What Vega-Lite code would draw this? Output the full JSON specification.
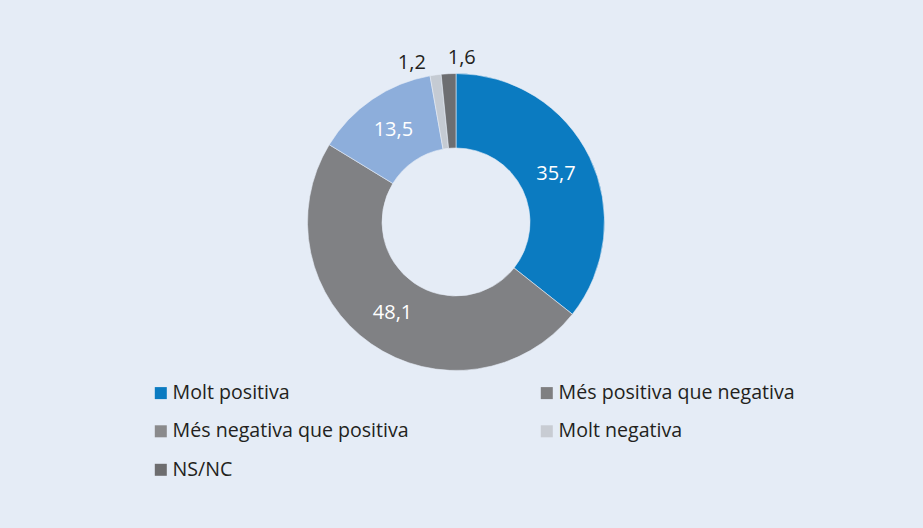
{
  "$schema": "https://vega.github.io/schema/vega-lite/v6.json",
  "width": 906,
  "height": 438,
  "autosize": {"type": "none"},
  "padding": {"left": 3, "top": 3, "right": 14, "bottom": 87},
  "background": "#e5ecf6",
  "config": {
    "view": {"stroke": null},
    "font": "Open Sans",
    "locale": {"number": {"decimal": ",", "thousands": ".", "grouping": [3], "currency": ["", " €"]}}
  },
  "data": {
    "values": [
      {"cat": "Molt positiva", "value": 35.7},
      {"cat": "Més positiva que negativa", "value": 48.1},
      {"cat": "Més negativa que positiva", "value": 13.5},
      {"cat": "Molt negativa", "value": 1.2},
      {"cat": "NS/NC", "value": 1.6}
    ]
  },
  "transform": [{"window": [{"op": "row_number", "as": "idx"}]}],
  "encoding": {
    "theta": {"field": "value", "type": "quantitative", "stack": true},
    "order": {"field": "idx", "type": "quantitative"}
  },
  "layer": [
    {
      "mark": {"type": "arc", "outerRadius": 148.5, "innerRadius": 74, "stroke": "#e5ecf6", "strokeWidth": 0.6},
      "encoding": {
        "fill": {
          "field": "cat", "type": "nominal", "sort": null,
          "scale": {"range": ["#0b7bc1", "#808184", "#8daedb", "#c5cbd3", "#6d6e71"]},
          "legend": null
        }
      }
    },
    {
      "mark": {"type": "point", "shape": "square", "filled": true, "opacity": 0},
      "encoding": {
        "color": {
          "field": "cat", "type": "nominal",
          "scale": {
            "domain": ["Molt positiva", "Més positiva que negativa", "Més negativa que positiva", "Molt negativa", "NS/NC"],
            "range": ["#0b7bc1", "#7f7f81", "#8a8a8c", "#c8ccd3", "#6d6d6f"]
          },
          "legend": {
            "title": null,
            "orient": "none",
            "direction": "horizontal",
            "legendX": 148,
            "legendY": 380,
            "columns": 2,
            "columnPadding": 128,
            "rowPadding": 17.5,
            "padding": 0,
            "symbolType": "square",
            "symbolSize": 144,
            "symbolOpacity": 1,
            "symbolStrokeWidth": 0,
            "symbolOffset": 0,
            "labelOffset": 2,
            "labelFont": "Open Sans",
            "labelFontSize": 19.6,
            "labelColor": "#231f20",
            "labelLimit": 400
          }
        }
      }
    },
    {
      "mark": {"type": "text", "radius": 111, "fontSize": 20, "fill": "#ffffff", "font": "Open Sans"},
      "encoding": {
        "text": {"field": "value", "type": "quantitative", "format": ".1f"},
        "opacity": {"condition": {"test": "datum.value > 5", "value": 1}, "value": 0}
      }
    },
    {
      "mark": {"type": "text", "radius": 161, "dx": -22, "fontSize": 20, "fill": "#231f20", "font": "Open Sans"},
      "encoding": {
        "text": {"field": "value", "type": "quantitative", "format": ".1f"},
        "opacity": {"condition": {"test": "datum.cat === 'Molt negativa'", "value": 1}, "value": 0}
      }
    },
    {
      "mark": {"type": "text", "radius": 164, "dx": 14, "fontSize": 20, "fill": "#231f20", "font": "Open Sans"},
      "encoding": {
        "text": {"field": "value", "type": "quantitative", "format": ".1f"},
        "opacity": {"condition": {"test": "datum.cat === 'NS/NC'", "value": 1}, "value": 0}
      }
    }
  ]
}
